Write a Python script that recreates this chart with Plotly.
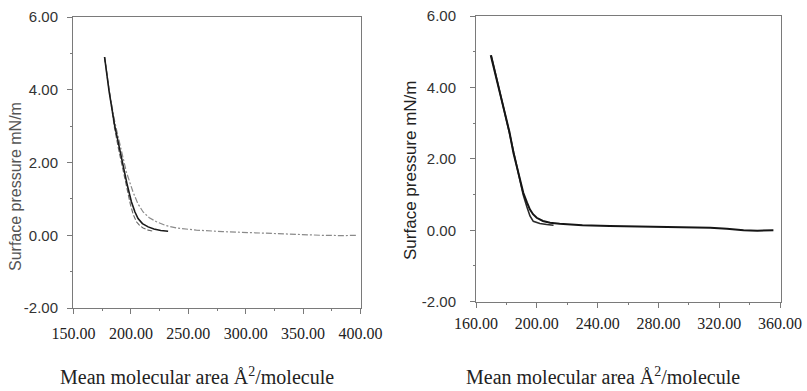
import plotly.graph_objects as go

W, H = 807, 391

# ---- data ----
# Left panel
left_a_x = [177, 181, 185.8, 189.5, 193.1, 196.8, 200.4, 203.5, 206.2, 210, 215, 220, 226, 232.4]
left_a_y = [4.9, 3.95, 3.02, 2.45, 1.92, 1.38, 0.92, 0.64, 0.46, 0.32, 0.23, 0.17, 0.13, 0.11]

left_b_x = [177, 181, 185.5, 189, 192.5, 196, 199.5, 202, 204.8, 207.5, 210.6, 215, 219.3]
left_b_y = [4.9, 3.93, 2.98, 2.4, 1.85, 1.3, 0.85, 0.57, 0.37, 0.27, 0.2, 0.14, 0.11]

left_c_x = [177, 181, 186, 191, 196, 201.8, 206, 210.6, 216, 222.3, 230, 239.7, 257, 280, 303.8, 325, 345, 365, 385, 397]
left_c_y = [4.9, 3.98, 3.1, 2.4, 1.74, 1.19, 0.87, 0.64, 0.48, 0.37, 0.27, 0.2, 0.14, 0.1, 0.07, 0.04, 0.02, 0.0, -0.01, 0.0]

# Right panel
right_a_x = [169.7, 172.5, 175, 178, 182, 184.6, 188, 191.1, 193.5, 195.5, 197.5, 199.9, 204, 208.7, 215, 230, 248, 265, 281, 300, 314, 325, 336, 345, 355.6]
right_a_y = [4.9, 4.4, 3.95, 3.47, 2.75, 2.17, 1.6, 1.05, 0.78, 0.58, 0.45, 0.35, 0.26, 0.21, 0.18, 0.14, 0.12, 0.11, 0.1, 0.09, 0.07, 0.04, 0.0, -0.01, 0.0]

right_b_x = [170, 175, 178, 182, 185, 188, 191, 193.5, 195.5, 197.7, 202, 206.5, 211]
right_b_y = [4.9, 3.95, 3.45, 2.72, 2.12, 1.55, 1.0, 0.65, 0.4, 0.25, 0.19, 0.16, 0.14]

left_xticks = [150, 200, 250, 300, 350, 400]
right_xticks = [160, 200, 240, 280, 320, 360]
yticks = [-2, 0, 2, 4, 6]

x_title = "Mean molecular area Å<sup>2</sup>/molecule"
y_title = "Surface pressure mN/m"

# ---- layout helpers ----
def px_x(p):
    return p / W

def px_y(p):
    return 1 - p / H

serif = "Liberation Serif"
sans = "Liberation Sans"
axis_col = "#7a7a7a"

fig = go.Figure()

fig.add_trace(go.Scatter(x=left_c_x, y=left_c_y, mode="lines", xaxis="x", yaxis="y",
                         line=dict(color="#8a8a8a", width=1.2, dash="6px,2px,2px,2px"), showlegend=False))
fig.add_trace(go.Scatter(x=left_b_x, y=left_b_y, mode="lines", xaxis="x", yaxis="y",
                         line=dict(color="#6a6a6a", width=1.1, dash="5px,2px"), showlegend=False))
fig.add_trace(go.Scatter(x=left_a_x, y=left_a_y, mode="lines", xaxis="x", yaxis="y",
                         line=dict(color="#1a1a1a", width=1.6), showlegend=False))

fig.add_trace(go.Scatter(x=right_b_x, y=right_b_y, mode="lines", xaxis="x2", yaxis="y2",
                         line=dict(color="#2a2a2a", width=1.6), showlegend=False))
fig.add_trace(go.Scatter(x=right_a_x, y=right_a_y, mode="lines", xaxis="x2", yaxis="y2",
                         line=dict(color="#151515", width=2.0), showlegend=False))

def xaxis(domain, rng, ticks, anchor, minor_dtick, standoff):
    return dict(domain=domain, range=rng, anchor=anchor, tickvals=ticks,
                ticktext=[f"{t:.2f}" for t in ticks], automargin=False,
                showgrid=False, zeroline=False, showline=True, mirror=True,
                linecolor=axis_col, linewidth=1, ticks="outside", ticklen=5,
                tickcolor=axis_col, tickwidth=1, ticklabelstandoff=standoff,
                tickfont=dict(family=serif, size=16, color="#222"),
                minor=dict(dtick=minor_dtick, tick0=ticks[0], ticks="outside", ticklen=2,
                           tickcolor=axis_col, showgrid=False),
                fixedrange=True)

def yaxis(domain, anchor, standoff):
    return dict(domain=domain, range=[-2, 6], anchor=anchor, tickvals=yticks,
                ticktext=[f"{t:.2f}" for t in yticks], automargin=False,
                showgrid=False, zeroline=False, showline=True, mirror=True,
                linecolor=axis_col, linewidth=1, ticks="outside", ticklen=5,
                tickcolor=axis_col, tickwidth=1, ticklabelstandoff=standoff,
                tickfont=dict(family=sans, size=15, color="#333"),
                minor=dict(dtick=1, tick0=-2, ticks="outside", ticklen=2,
                           tickcolor=axis_col, showgrid=False),
                fixedrange=True)

fig.update_layout(
    width=W, height=H,
    margin=dict(l=0, r=0, t=0, b=0, autoexpand=False),
    font=dict(family=serif, size=15, color="#222"),
    paper_bgcolor="white", plot_bgcolor="white",
    xaxis=xaxis([px_x(73), px_x(361)], [149.5, 400.5], left_xticks, "y", 25, 6),
    yaxis=yaxis([px_y(308), px_y(17)], "x", 6),
    xaxis2=xaxis([px_x(476), px_x(781)], [160, 360.6], right_xticks, "y2", 20, 2),
    yaxis2=yaxis([px_y(301.7), px_y(16)], "x2", 11),
)

annotations = [
    dict(text=x_title, x=px_x(197), y=px_y(376), xref="paper", yref="paper",
         showarrow=False, font=dict(family=serif, size=20, color="#222"),
         xanchor="center", yanchor="middle"),
    dict(text=x_title, x=px_x(603), y=px_y(376), xref="paper", yref="paper",
         showarrow=False, font=dict(family=serif, size=20, color="#222"),
         xanchor="center", yanchor="middle"),
    dict(text=y_title, x=px_x(411), y=px_y(170), xref="paper", yref="paper",
         showarrow=False, textangle=-90, font=dict(family=sans, size=17, color="#222"),
         xanchor="center", yanchor="middle"),
    dict(text=y_title, x=px_x(15), y=px_y(187), xref="paper", yref="paper",
         showarrow=False, textangle=-90, font=dict(family=sans, size=16, color="#555"),
         xanchor="center", yanchor="middle"),
]
fig.update_layout(annotations=annotations)

fig.write_html("out.html")
